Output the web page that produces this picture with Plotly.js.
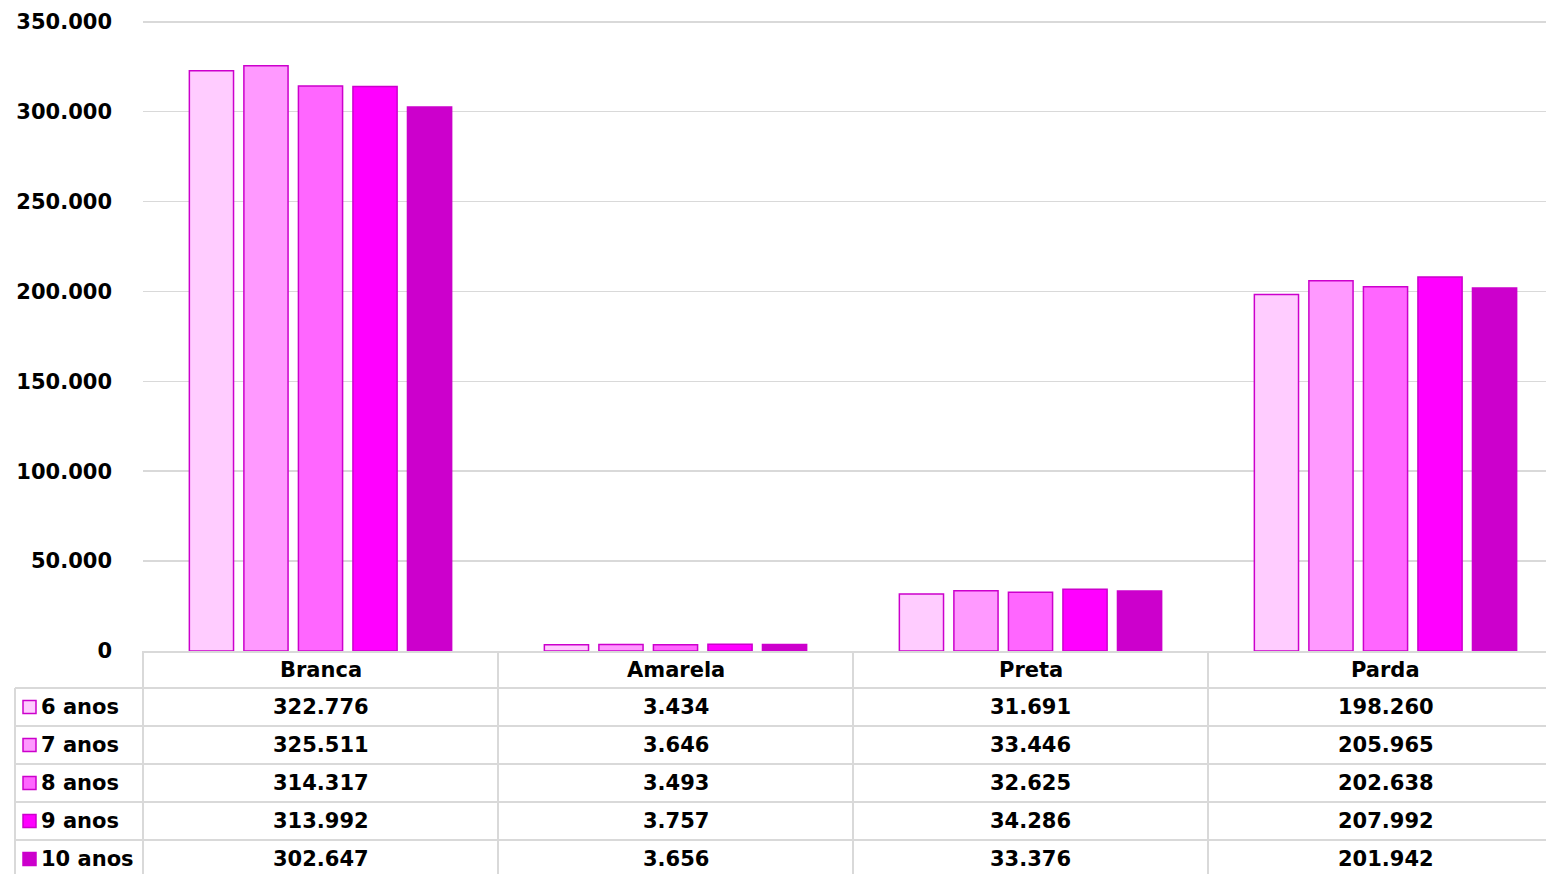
<!DOCTYPE html>
<html><head><meta charset="utf-8">
<script src="https://cdn.plot.ly/plotly-3.0.1.min.js"></script>
<style>html,body{margin:0;padding:0;background:#fff}#chart{width:1546px;height:874px}</style>
</head><body><div id="chart"></div>
<script>
const categories = ["Branca", "Amarela", "Preta", "Parda"];
const seriesNames = ["6 anos", "7 anos", "8 anos", "9 anos", "10 anos"];
const anos6 = [322776, 3434, 31691, 198260];
const anos7 = [325511, 3646, 33446, 205965];
const anos8 = [314317, 3493, 32625, 202638];
const anos9 = [313992, 3757, 34286, 207992];
const anos10 = [302647, 3656, 33376, 201942];
const seriesValues = [anos6, anos7, anos8, anos9, anos10];
const colors = ["#FFCCFF", "#FF99FF", "#FF66FF", "#FF00FF", "#CC00CC"];
const yTicks = [0, 50000, 100000, 150000, 200000, 250000, 300000, 350000];

const W = 1546, H = 874, L = 143, R = 0, T = 20, B = 223;
const plotW = W - L - R, plotH = H - T - B;
const catW = 355;
const px = p => (p - L) / plotW;
const py = p => (H - B - p) / plotH;
const fmt = v => String(v).replace(/\B(?=(\d{3})+(?!\d))/g, ".");
const FONT = {family: "DejaVu Sans", size: 21, color: "#000", weight: "bold"};
const GRID = "#D9D9D9";

const traces = seriesNames.map((n, i) => ({
  type: "bar", name: n, x: categories, y: seriesValues[i],
  marker: {color: colors[i], line: {color: "#CC00CC", width: 1.5}},
  showlegend: false, hoverinfo: "x+y"
}));

const shapes = [];
const annotations = [];
const line = (x0, y0, x1, y1) => shapes.push({type: "line", xref: "paper", yref: "paper",
  x0: px(x0), y0: py(y0), x1: px(x1), y1: py(y1), line: {color: GRID, width: 2}, layer: "above"});
[688, 726, 764, 802, 840].forEach(y => line(15, y, W, y));
line(15, 688, 15, H);
line(143, 651, 143, H);
[1, 2, 3].forEach(k => line(143 + catW * k, 651, 143 + catW * k, H));

const headerY = 669.5;
const rowY = [707, 745, 783, 821, 859];
categories.forEach((c, j) => {
  annotations.push({xref: "x", yref: "paper", x: c, y: py(headerY), text: c, showarrow: false,
    font: FONT, xanchor: "center", yanchor: "middle"});
  seriesValues.forEach((vals, i) => {
    annotations.push({xref: "x", yref: "paper", x: c, y: py(rowY[i]), text: fmt(vals[j]), showarrow: false,
      font: FONT, xanchor: "center", yanchor: "middle"});
  });
});
seriesNames.forEach((n, i) => {
  annotations.push({xref: "paper", yref: "paper", x: px(39), y: py(rowY[i]), text: n, showarrow: false,
    font: FONT, xanchor: "left", yanchor: "middle"});
  shapes.push({type: "rect", xref: "paper", yref: "paper", x0: px(23), x1: px(36), y0: py(rowY[i] - 6.5), y1: py(rowY[i] + 6.5),
    fillcolor: colors[i], line: {color: "#CC00CC", width: 1.5}});
});

const layout = {
  width: W, height: H,
  margin: {l: L, r: R, t: T, b: B, pad: 0},
  paper_bgcolor: "#fff", plot_bgcolor: "#fff",
  separators: ",.",
  barmode: "group", bargap: 0.232, bargroupgap: 0.19,
  font: FONT,
  xaxis: {showticklabels: false, showgrid: false, showline: true, linecolor: GRID, linewidth: 2,
    ticks: "", zeroline: false, range: [-0.5, -0.5 + plotW / catW], fixedrange: true},
  yaxis: {range: [0, 351000], tickvals: yTicks, ticktext: yTicks.map(fmt), showgrid: true,
    gridcolor: GRID, gridwidth: 1.5, zeroline: false, showline: false, ticks: "",
    ticklabelstandoff: 30, tickfont: FONT, fixedrange: true},
  shapes, annotations, showlegend: false
};
Plotly.newPlot("chart", traces, layout, {displayModeBar: false, staticPlot: true});
</script></body></html>
